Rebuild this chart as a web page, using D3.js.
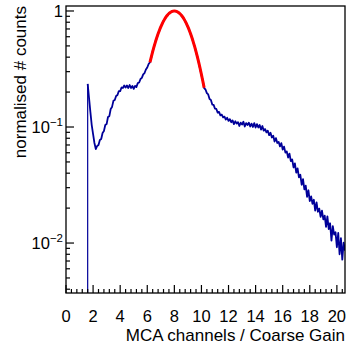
<!DOCTYPE html>
<html><head><meta charset="utf-8">
<script src="https://cdn.jsdelivr.net/npm/d3@7"></script>
<style>body{margin:0;background:#fff} svg{display:block} text{font-family:"Liberation Sans",Arial,Helvetica,sans-serif;fill:#000}</style>
</head><body><svg id="c" width="353" height="343"></svg>
<script>
// histogram: bin centres start at binStart, spaced binWidth
const binStart = 1.6, binWidth = 0.1;
const counts = [
  0.235, 0.178, 0.135, 0.104,                                       // 1.6-1.9
  0.087, 0.0728, 0.0646, 0.0686, 0.0700, 0.0773, 0.0788, 0.0888, 0.0924, 0.104, // 2.0-2.9
  0.106, 0.122, 0.124, 0.143, 0.149, 0.168, 0.171, 0.185, 0.189, 0.204,        // 3.0-3.9
  0.204, 0.219, 0.217, 0.228, 0.219, 0.228, 0.217, 0.230, 0.217, 0.226,        // 4.0-4.9
  0.213, 0.226, 0.221, 0.239, 0.242, 0.259, 0.265, 0.284, 0.292, 0.313,        // 5.0-5.9
  0.326, 0.349, 0.362, 0.398, 0.452, 0.488, 0.545, 0.583, 0.641, 0.678,        // 6.0-6.9
  0.736, 0.770, 0.822, 0.852, 0.899, 0.919, 0.957, 0.968, 0.993, 0.992,        // 7.0-7.9
  1.000, 0.994, 0.983, 0.975, 0.946, 0.929, 0.887, 0.862, 0.812, 0.779,        // 8.0-8.9
  0.725, 0.688, 0.631, 0.592, 0.535, 0.497, 0.443, 0.406, 0.357, 0.318,        // 9.0-9.9
  0.281, 0.252, 0.216, 0.2105, 0.196, 0.191, 0.174, 0.171, 0.156, 0.155,       // 10.0-10.9
  0.144, 0.143, 0.133, 0.135, 0.126, 0.128, 0.121, 0.123, 0.116, 0.120,        // 11.0-11.9
  0.113, 0.117, 0.110, 0.114, 0.106, 0.112, 0.107, 0.110, 0.102, 0.109,        // 12.0-12.9
  0.105, 0.111, 0.101, 0.108, 0.104, 0.109, 0.101, 0.107, 0.100, 0.108,        // 13.0-13.9
  0.099, 0.106, 0.099, 0.104, 0.095, 0.102, 0.093, 0.096, 0.090, 0.093,        // 14.0-14.9
  0.0850, 0.0893, 0.0812, 0.0840, 0.0750, 0.0803, 0.0728, 0.0745, 0.0680, 0.0726, // 15.0-15.9
  0.0640, 0.0678, 0.0601, 0.0616, 0.0546, 0.0590, 0.0508, 0.0526, 0.0448, 0.0486, // 16.0-16.9
  0.0404, 0.0440, 0.0368, 0.0388, 0.0318, 0.0355, 0.0290, 0.0312, 0.0250, 0.0285, // 17.0-17.9
  0.0230, 0.0252, 0.0218, 0.0236, 0.0190, 0.0224, 0.0186, 0.0198, 0.0168, 0.0190, // 18.0-18.9
  0.0160, 0.0172, 0.0138, 0.0170, 0.0132, 0.0148, 0.0105, 0.0140, 0.0118, 0.0124, // 19.0-19.9
  0.0092, 0.0122, 0.0080, 0.0110, 0.0072, 0.0101, 0.0086                          // 20.0-20.6
];
// Gaussian fit curve samples
const fitStart = 6.2, fitStep = 0.1;
const fitValues = [
  0.3604, 0.4025, 0.4465, 0.4923, 0.5394, 0.5873, 0.6354, 0.6831, 0.7298, 0.7748,
  0.8174, 0.8570, 0.8928, 0.9243, 0.9509, 0.9720, 0.9875, 0.9969, 1.0000, 0.9969,
  0.9875, 0.9720, 0.9509, 0.9243, 0.8928, 0.8570, 0.8174, 0.7748, 0.7298, 0.6831,
  0.6354, 0.5873, 0.5394, 0.4923, 0.4465, 0.4025, 0.3604, 0.3209, 0.2837, 0.2494, 0.2178
];
const xTickValues = [0, 2, 4, 6, 8, 10, 12, 14, 16, 18, 20];
const yTickValues = [1, 0.1, 0.01];
const yTickLabels = [["1", ""], ["10", "\u22121"], ["10", "\u22122"]];
const xTitle = "MCA channels / Coarse Gain";
const yTitle = "normalised # counts";

const L = 66, R = 345, T = 6, B = 293;
const svg = d3.select("#c");
const x = d3.scaleLinear().domain([0, 20.6]).range([L, R]);
const y = d3.scaleLog().domain([0.00371, 1.104]).range([B, T]);

svg.append("defs").append("clipPath").attr("id", "clip")
  .append("rect").attr("x", L).attr("y", T).attr("width", R - L).attr("height", B - T);

const pts = counts.map((c, i) => [binStart + i * binWidth, c]);
const line = d3.line().x(d => x(d[0])).y(d => y(d[1]));
const g = svg.append("g").attr("clip-path", "url(#clip)");
// rising edge of the first filled bin
g.append("line").attr("x1", x(pts[0][0])).attr("x2", x(pts[0][0]))
  .attr("y1", B + 5).attr("y2", y(pts[0][1]))
  .attr("stroke", "#000099").attr("stroke-width", 1.2);
g.append("path").attr("d", line(pts))
  .attr("fill", "none").attr("stroke", "#000099").attr("stroke-width", 1.8)
  .attr("stroke-linejoin", "round");
const fitPts = fitValues.map((v, i) => [fitStart + i * fitStep, v]);
g.append("path").attr("d", line.curve(d3.curveCatmullRom)(fitPts))
  .attr("fill", "none").attr("stroke", "#ff0000").attr("stroke-width", 3);

// frame
svg.append("rect").attr("x", L).attr("y", T).attr("width", R - L).attr("height", B - T)
  .attr("fill", "none").attr("stroke", "#000").attr("stroke-width", 1.3);

// x axis ticks (inside)
const xMinor = d3.range(0, 20.61, 0.4).filter(v => Math.abs(v / 2 - Math.round(v / 2)) > 1e-6);
svg.append("g").selectAll("line").data(xTickValues).join("line")
  .attr("x1", d => x(d)).attr("x2", d => x(d)).attr("y1", B).attr("y2", B - 8)
  .attr("stroke", "#000").attr("stroke-width", 1.2);
svg.append("g").selectAll("line").data(xMinor).join("line")
  .attr("x1", d => x(d)).attr("x2", d => x(d)).attr("y1", B).attr("y2", B - 4)
  .attr("stroke", "#000").attr("stroke-width", 1.2);
svg.append("g").selectAll("text").data(xTickValues).join("text")
  .attr("x", d => x(d)).attr("y", 321.5).attr("text-anchor", "middle")
  .attr("font-size", 16.5).text(d => d);

// y axis ticks (inside)
const yMinor = [];
[0.001, 0.01, 0.1, 1].forEach(dec => { for (let k = 2; k <= 9; k++) { const v = dec * k; if (v > 0.00371 && v < 1.104) yMinor.push(v); } });
svg.append("g").selectAll("line").data(yTickValues).join("line")
  .attr("x1", L).attr("x2", L + 8).attr("y1", d => y(d)).attr("y2", d => y(d))
  .attr("stroke", "#000").attr("stroke-width", 1.2);
svg.append("g").selectAll("line").data(yMinor).join("line")
  .attr("x1", L).attr("x2", L + 4).attr("y1", d => y(d)).attr("y2", d => y(d))
  .attr("stroke", "#000").attr("stroke-width", 1.2);
const yl = svg.append("g").selectAll("text").data(yTickValues).join("text")
  .attr("x", 63).attr("y", d => y(d) + 6).attr("text-anchor", "end").attr("font-size", 16.5);
yl.each(function(d, i) {
  const t = d3.select(this);
  t.append("tspan").text(yTickLabels[i][0]);
  if (yTickLabels[i][1]) t.append("tspan").attr("font-size", 11.5).attr("dy", -7).text(yTickLabels[i][1]);
});

// titles
svg.append("text").attr("x", R).attr("y", 340.5).attr("text-anchor", "end")
  .attr("font-size", 17).text(xTitle);
svg.append("text").attr("transform", "translate(26," + T + ") rotate(-90)")
  .attr("text-anchor", "end").attr("font-size", 17).text(yTitle);
</script></body></html>
